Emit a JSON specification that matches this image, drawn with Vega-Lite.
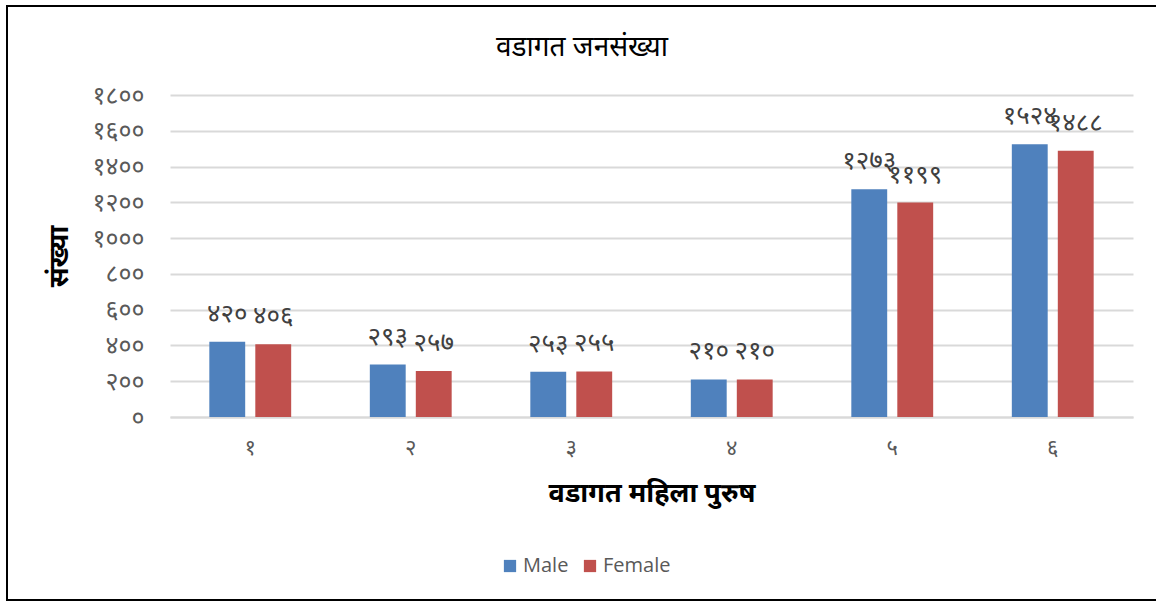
{
  "$schema": "https://vega.github.io/schema/vega-lite/v6.json",
  "width": 1150,
  "height": 594,
  "autosize": "none",
  "padding": {"left": 7, "top": 6, "right": 0, "bottom": 2},
  "background": "white",
  "title": {
    "text": "वडागत जनसंख्या",
    "fontSize": 28,
    "fontWeight": "normal",
    "color": "#000000",
    "font": "Noto Sans Devanagari, Noto Sans, sans-serif",
    "anchor": "middle",
    "frame": "group",
    "baseline": "top",
    "orient": "top",
    "offset": -56,
    "dy": 0
  },
  "data": {
    "values": [
      {"ward": "१", "sex": "Male", "value": 420},
      {"ward": "१", "sex": "Female", "value": 406},
      {"ward": "२", "sex": "Male", "value": 293},
      {"ward": "२", "sex": "Female", "value": 257},
      {"ward": "३", "sex": "Male", "value": 253},
      {"ward": "३", "sex": "Female", "value": 255},
      {"ward": "४", "sex": "Male", "value": 210},
      {"ward": "४", "sex": "Female", "value": 210},
      {"ward": "५", "sex": "Male", "value": 1273},
      {"ward": "५", "sex": "Female", "value": 1199},
      {"ward": "६", "sex": "Male", "value": 1524},
      {"ward": "६", "sex": "Female", "value": 1488}
    ]
  },
  "transform": [
    {"calculate": "replace(replace(replace(replace(replace(replace(replace(replace(replace(replace(toString(datum.value),regexp('0','g'),'०'),regexp('1','g'),'१'),regexp('2','g'),'२'),regexp('3','g'),'३'),regexp('4','g'),'४'),regexp('5','g'),'५'),regexp('6','g'),'६'),regexp('7','g'),'७'),regexp('8','g'),'८'),regexp('9','g'),'९')", "as": "dlabel"}
  ],
  "encoding": {
    "x": {
      "field": "ward",
      "type": "nominal",
      "sort": null,
      "scale": {"range": [163, 1126], "paddingInner": 0.49, "paddingOuter": 0.245},
      "axis": {
        "offset": -183,
        "title": "वडागत महिला पुरुष",
        "titleFontSize": 27,
        "titleFontWeight": "bold",
        "titleColor": "#000000",
        "titleFont": "Noto Sans Devanagari, Noto Sans, sans-serif",
        "titlePadding": 22,
        "labelAngle": 0,
        "labelFontSize": 22,
        "labelColor": "#595959",
        "labelFont": "Noto Sans Devanagari, Noto Sans, sans-serif",
        "labelPadding": 20,
        "ticks": false,
        "domainColor": "#d9d9d9",
        "domainWidth": 2
      }
    },
    "xOffset": {"field": "sex", "type": "nominal", "sort": ["Male", "Female"], "scale": {"paddingInner": 0.22}},
    "y": {
      "field": "value",
      "type": "quantitative",
      "scale": {"domain": [0, 1800], "range": [411, 89]},
      "axis": {
        "offset": -163,
        "title": "संख्या",
        "titleFontSize": 27,
        "titleFontWeight": "bold",
        "titleColor": "#000000",
        "titleFont": "Noto Sans Devanagari, Noto Sans, sans-serif",
        "titlePadding": 18,
        "values": [0, 200, 400, 600, 800, 1000, 1200, 1400, 1600, 1800],
        "labelExpr": "replace(replace(replace(replace(replace(replace(replace(replace(replace(replace(toString(datum.value),regexp('0','g'),'०'),regexp('1','g'),'१'),regexp('2','g'),'२'),regexp('3','g'),'३'),regexp('4','g'),'४'),regexp('5','g'),'५'),regexp('6','g'),'६'),regexp('7','g'),'७'),regexp('8','g'),'८'),regexp('9','g'),'९')",
        "labelFontSize": 25,
        "labelColor": "#595959",
        "labelFont": "Noto Sans Devanagari, Noto Sans, sans-serif",
        "labelPadding": 26,
        "ticks": false,
        "domain": false,
        "gridColor": "#d9d9d9",
        "gridWidth": 2
      }
    }
  },
  "layer": [
    {
      "mark": {"type": "bar"},
      "encoding": {
        "color": {
          "field": "sex",
          "type": "nominal",
          "sort": ["Male", "Female"],
          "scale": {"domain": ["Male", "Female"], "range": ["#4F81BD", "#C0504D"]},
          "legend": {
            "title": null,
            "orient": "none",
            "legendX": 493,
            "legendY": 550,
            "padding": 0,
            "direction": "horizontal",
            "symbolType": "square",
            "symbolSize": 150,
            "symbolStrokeWidth": 0,
            "labelFontSize": 20,
            "labelColor": "#595959",
            "labelFont": "Open Sans, sans-serif",
            "labelOffset": 3,
            "columnPadding": 11
          }
        }
      }
    },
    {
      "mark": {
        "type": "text",
        "baseline": "middle",
        "align": "center",
        "dy": -28,
        "fontSize": 26,
        "color": "#404040",
        "font": "Noto Sans Devanagari, Noto Sans, sans-serif"
      },
      "encoding": {
        "text": {"field": "dlabel", "type": "nominal"}
      }
    }
  ],
  "config": {
    "view": {"stroke": "#000000", "strokeWidth": 2}
  }
}
